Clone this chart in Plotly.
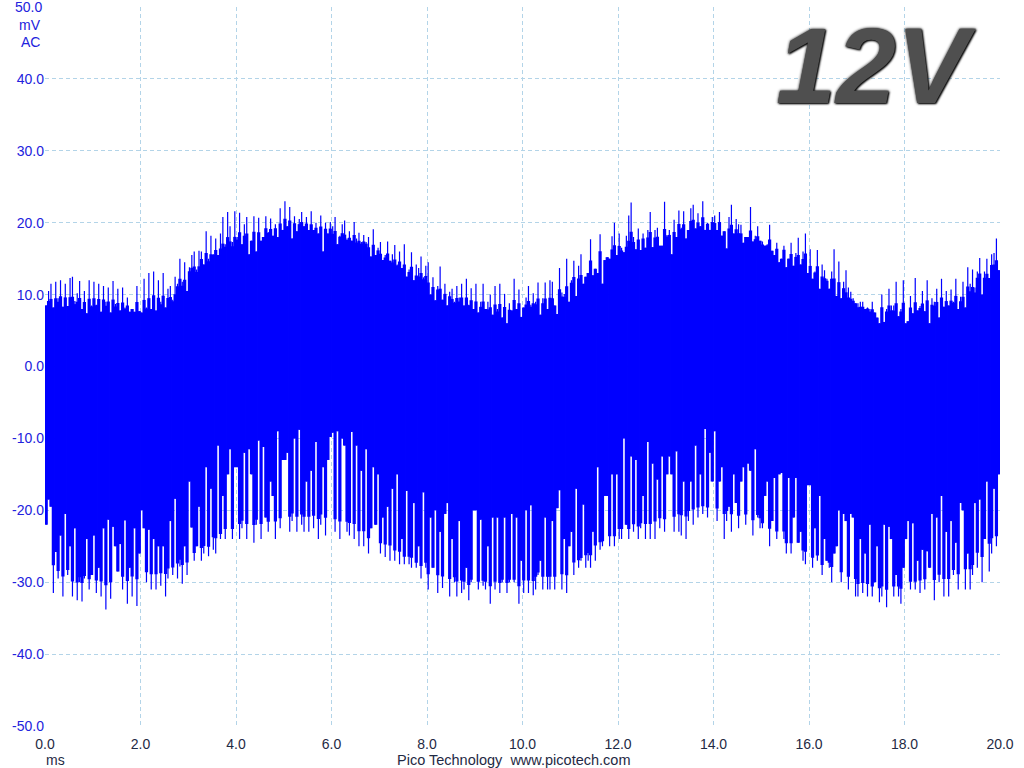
import plotly.graph_objects as go

# Upper peak of the waveform per column (mV); one row per millisecond
upper_mv = [
 8.5,10.5,11.5,8.2,11.8,9.5,12.0,8.3,11.5,8.4,12.3,12.5,9.1,10.2,11.9,8.0,10.5,7.4,12.0,8.5,
 11.8,8.6,11.5,7.6,11.2,9.0,11.0,7.5,11.9,8.7,10.8,7.8,11.0,8.2,9.6,7.6,8.0,7.6,11.2,7.7,
 7.5,12.2,8.2,13.0,8.0,13.2,7.8,12.0,9.0,13.0,8.2,10.8,11.2,9.3,12.5,11.5,15.0,11.8,14.5,10.5,
 13.8,15.5,16.0,13.5,16.1,16.0,14.2,18.8,15.0,18.2,15.6,17.8,15.5,18.5,20.8,17.0,21.5,19.5,17.3,21.6,
 18.0,21.4,17.0,19.8,20.8,15.6,17.5,20.9,16.0,20.7,17.5,18.0,20.9,18.7,20.6,18.2,19.8,18.0,22.0,19.0,
 23.0,19.5,22.2,17.8,20.9,18.8,20.5,21.5,19.5,20.8,19.0,21.6,19.0,20.0,18.5,21.0,16.0,20.0,18.5,20.1,
 19.5,20.8,17.0,18.2,19.8,20.3,17.8,18.8,17.5,20.1,17.8,18.6,17.3,18.3,17.3,18.0,15.3,19.1,15.5,16.5,
 17.3,14.8,15.5,17.4,14.7,15.6,16.9,14.2,16.0,13.7,17.0,12.5,13.5,15.9,12.0,14.2,13.7,15.3,12.4,14.0,
 14.5,10.0,12.4,9.2,11.2,13.9,9.3,11.5,8.5,10.4,10.8,9.0,11.2,9.6,11.5,8.5,12.2,8.6,10.9,8.0,
 11.5,7.5,9.0,11.5,8.0,9.0,10.0,7.2,11.2,8.0,11.5,6.8,10.1,6.0,8.8,7.8,12.2,8.0,10.7,6.9,
 8.2,9.6,11.2,8.6,10.2,9.0,11.7,7.2,9.5,11.7,8.0,12.0,11.8,8.5,7.3,13.7,10.3,10.1,15.0,9.0,
 12.0,14.7,9.8,14.0,15.6,11.5,12.5,13.0,17.7,12.7,13.6,13.0,18.4,11.5,14.8,15.2,15.0,18.1,20.0,15.5,
 18.5,16.5,15.9,18.2,21.0,22.8,18.0,16.3,19.2,16.2,18.5,16.5,19.0,21.5,16.6,19.0,19.3,16.8,16.8,22.9,
 18.3,19.0,15.6,20.4,18.0,21.7,19.3,21.6,17.8,19.0,22.0,22.5,19.2,21.3,19.5,23.0,19.0,20.0,19.0,20.8,
 21.0,19.0,21.5,18.2,18.8,16.4,20.8,22.5,18.5,20.5,19.8,19.7,17.2,18.0,18.0,22.2,17.4,18.2,19.5,17.5,
 17.4,16.8,17.0,19.7,16.1,15.5,17.2,14.5,15.0,16.8,13.8,15.0,17.2,14.0,15.8,17.9,14.2,16.0,18.5,13.0,
 16.3,12.2,13.2,16.2,10.8,14.2,13.4,12.2,10.8,13.2,16.3,9.8,14.6,9.5,11.8,13.4,11.0,10.4,9.5,8.8,
 8.8,9.0,9.0,8.0,8.2,8.0,9.0,7.5,6.8,6.0,10.0,6.2,8.0,10.8,8.5,8.5,11.8,7.0,8.0,12.0,
 6.0,6.3,9.8,7.4,12.3,7.8,8.4,10.5,7.7,12.0,6.0,9.5,9.0,10.8,6.8,12.2,8.3,10.5,8.5,10.7,
 9.0,12.2,8.0,9.7,11.8,8.2,13.8,11.5,13.5,11.0,13.2,15.1,10.0,13.2,15.0,12.3,15.6,15.8,17.8,13.4,
]

# Lower peak of the waveform per column (mV); one row per millisecond
lower_mv = [
 -22,-18.5,-19.5,-31.5,-25.8,-29.5,-23.5,-32,-20.5,-29,-25,-32,-22.5,-32.5,-30,-32.7,-29.5,-24,-31,-29,
 -23.5,-31.5,-28,-32,-22.5,-33.8,-21.3,-32.3,-22.3,-25,-28.5,-24.7,-31,-21.4,-33,-28,-32,-22.5,-33.3,-26,
 -20,-22.5,-30,-22.7,-31,-24,-31,-25,-30.5,-25,-32,-29.5,-21.5,-29,-18.4,-29.5,-27.8,-30.2,-25,-29,
 -16,-22.4,-27,-25,-19.5,-27,-26,-14,-26.4,-17,-25.5,-26,-11,-24,-18,-24,-15,-11.5,-24,-14,
 -14,-24,-22.5,-12,-24,-11.5,-15,-24.5,-22,-10.3,-24,-11.2,-21,-23,-16,-18,-24,-9,-22.5,-13,
 -13,-12,-23,-21.5,-10,-23,-8.8,-22,-23,-16,-23,-14.5,-22.5,-10.5,-24,-22,-14,-23.5,-13,-9.8,
 -9.2,-23,-9,-24,-10,-11,-23,-23.5,-9.1,-24,-11,-25,-14.5,-25,-11.5,-26,-22.5,-14,-22,-15,
 -26,-21,-26.5,-19.5,-27,-17,-27,-15,-27.5,-24,-27.5,-17.3,-27.5,-28,-19,-28,-25,-29.5,-17.5,-28,
 -31,-21,-28,-20,-31.5,-23,-30.8,-20.5,-19,-32,-24,-30,-32,-21.5,-31.5,-31,-28,-32.5,-30,-20,
 -20,-31,-21.3,-30.5,-31,-25,-33,-21,-31,-21,-31.5,-30,-21,-31.5,-30,-20.5,-30,-21,-33,-27,
 -31.5,-20,-31.5,-19.3,-31.8,-31,-29,-27,-31,-21,-31,-31,-21.5,-31,-19.7,-17.2,-31,-24,-31.5,-25,
 -23,-29,-17,-28,-27,-19.2,-28,-27,-28,-23,-27,-14,-25.5,-25,-18,-18,-25,-15,-25,-15,
 -24,-24,-10,-22,-24,-12.5,-23,-13,-24,-22.5,-18,-24,-10.5,-24,-13.5,-24,-15.7,-22.5,-12.5,-23,
 -15,-12.5,-15,-23,-11.8,-23,-23.5,-16,-24,-21.5,-16,-22,-11,-21,-15,-20.5,-8.7,-21,-12,-16,
 -9,-21.5,-16,-14,-24,-21.5,-19.5,-23,-15,-19,-22.5,-16,-14,-22,-13.5,-14.5,-23.5,-11.5,-21,-22.5,
 -22.5,-18,-16,-25,-21.5,-15.5,-24,-15,-14.8,-24,-26,-15.5,-26,-21,-15.5,-24.5,-23,-27,-27.5,-16.5,
 -16.5,-28,-22.5,-27,-18,-29,-24,-27,-28,-30,-26,-25,-20,-30,-20.5,-21.5,-31,-20.5,-21,-32,
 -32,-24,-31.5,-26,-32,-22,-32,-30,-25,-32.8,-32,-22,-33.5,-22.3,-24,-32,-29,-32,-33,-28,
 -24,-21.5,-31,-21.8,-31,-27,-31.5,-25.5,-31,-25.7,-28,-20.5,-32.5,-21,-30,-18,-32,-23,-32,-21.5,
 -29,-24.5,-31,-19,-20,-31,-26,-31,-29,-19,-28,-18.5,-30,-24,-16,-28.5,-26,-17,-25,-15,
]

# Level of the solid body of the trace, every quarter millisecond (mV)
body_upper_mv = [
 8.5,8.8,8.5,8.3, 8.5,8.2,8.0,8.0, 8.0,8.5,9.0,11.0, 13.0,14.5,15.5,16.5,
 17.5,17.8,18.5,19.0, 19.5,19.5,19.0,18.8, 18.0,17.5,17.0,16.0, 15.0,14.0,13.0,12.0,
 10.5,9.5,8.8,8.5, 8.0,7.5,7.5,8.0, 8.2,8.5,8.5,9.5, 11.5,13.5,15.0,15.5,
 16.0,17.0,17.5,17.5, 18.0,19.0,19.5,19.8, 19.5,18.5,18.0,17.5, 16.8,16.0,15.0,14.5,
 13.0,11.8,10.5,9.0, 8.0,7.5,7.5,7.5, 7.5,8.0,8.2,8.5, 8.8,10.0,12.0,13.5,
]
body_lower_mv = [
 -26,-28,-29,-29, -29,-29,-28.5,-28, -28,-28,-27.5,-26.5, -25.5,-24.5,-23,-22,
 -21,-21,-21,-20.5, -20,-20,-20,-20, -20.5,-21,-22,-23, -24,-25,-26,-27,
 -28,-28.5,-29,-29.5, -29.5,-29.5,-29.5,-29.5, -29,-28.5,-28.5,-28, -26.5,-25.5,-24,-23,
 -22,-21.5,-21,-20.5, -20,-19.5,-19,-19, -19,-19.5,-20,-20.5, -21.5,-22.5,-24,-25,
 -26,-27,-28,-28.5, -29.5,-30,-30,-30, -29.5,-29,-28.5,-28.5, -28,-27,-25,-23,
]

x_ticks = [0, 2, 4, 6, 8, 10, 12, 14, 16, 18, 20]
x_labels = ["0.0", "2.0", "4.0", "6.0", "8.0", "10.0", "12.0", "14.0", "16.0", "18.0", "20.0"]
y_ticks = [50, 40, 30, 20, 10, 0, -10, -20, -30, -40, -50]
y_labels = ["50.0", "40.0", "30.0", "20.0", "10.0", "0.0", "-10.0", "-20.0", "-30.0", "-40.0", "-50.0"]

FONT = "Liberation Sans"
GRID = "#b3d4e8"
BLUE = "#0000ff"
N = len(upper_mv)
step = 20 / N
per_body = N // len(body_upper_mv)
time_ms = [step * (i + 0.5) for i in range(N)]

# Solid part of each column: stops at the body level, or short of it at a notch
solid_top, solid_bottom = [], []
for i in range(N):
    b_hi, b_lo = body_upper_mv[i // per_body], body_lower_mv[i // per_body]
    hi, lo = upper_mv[i], lower_mv[i]
    solid_top.append(b_hi + 0.3 * (hi - b_hi) if hi > b_hi else hi)
    solid_bottom.append(b_lo + 0.3 * (lo - b_lo) if lo < b_lo else lo)

fig = go.Figure()
fig.add_bar(
    x=time_ms, y=[t - b for t, b in zip(solid_top, solid_bottom)], base=solid_bottom,
    width=step * 1.35, marker=dict(color=BLUE, line=dict(width=0)),
    hoverinfo="skip", showlegend=False,
)

# Thin strokes carry the peaks out beyond the solid part
xs, ys = [], []
for i in range(N):
    xs += [time_ms[i], time_ms[i], None]
    ys += [upper_mv[i], lower_mv[i], None]
fig.add_scatter(
    x=xs, y=ys, mode="lines", connectgaps=False,
    line=dict(color=BLUE, width=1.2), hoverinfo="skip", showlegend=False,
)

axis = dict(showgrid=True, gridcolor=GRID, griddash="4px,3px", gridwidth=1,
            zeroline=False, showline=False, tickmode="array")

fig.update_xaxes(range=[0, 20], tickvals=x_ticks, ticktext=x_labels,
                 ticks="outside", ticklen=5, tickcolor="rgba(0,0,0,0)",
                 tickfont=dict(family=FONT, size=14, color="#1f2a44"), **axis)
fig.update_yaxes(range=[-50, 50], tickvals=y_ticks, ticktext=y_labels, ticks="",
                 tickfont=dict(family=FONT, size=14, color="#2222dd"), **axis)

def note(text, x, y, size=14, color="#2222dd", anchor="center", **kw):
    fig.add_annotation(text=text, x=x, y=y, xref="paper", yref="paper", showarrow=False,
                       xanchor=anchor, yanchor="middle",
                       font=dict(family=FONT, size=size, color=color, **kw))

W, H, L, R, T, B = 1024, 768, 45, 24, 7, 42
PW, PH = W - L - R, H - T - B
px = lambda v: (v - L) / PW
py = lambda v: (H - B - v) / PH

note(y_labels[0], px(44), py(7), anchor="right")
note("mV", px(30), py(25))
note("AC", px(30), py(42))
note("ms", px(55), py(760), color="#1f2a44")
note("Pico Technology&nbsp;&nbsp;www.picotech.com", px(513), py(760), size=14.5, color="#1f2a44")
note("12V", px(876), py(65), size=108, color="#4f4f4f", weight="bold", style="italic",
     shadow="0 0 3px #000, 1px 1px 2px #000")

fig.update_layout(
    width=W, height=H, autosize=False,
    margin=dict(l=L, r=R, t=T, b=B, pad=0),
    paper_bgcolor="white", plot_bgcolor="white",
    barmode="overlay",
)
fig.write_html("out.html", config={"displayModeBar": False},
               post_script="document.body.style.margin='0';")
